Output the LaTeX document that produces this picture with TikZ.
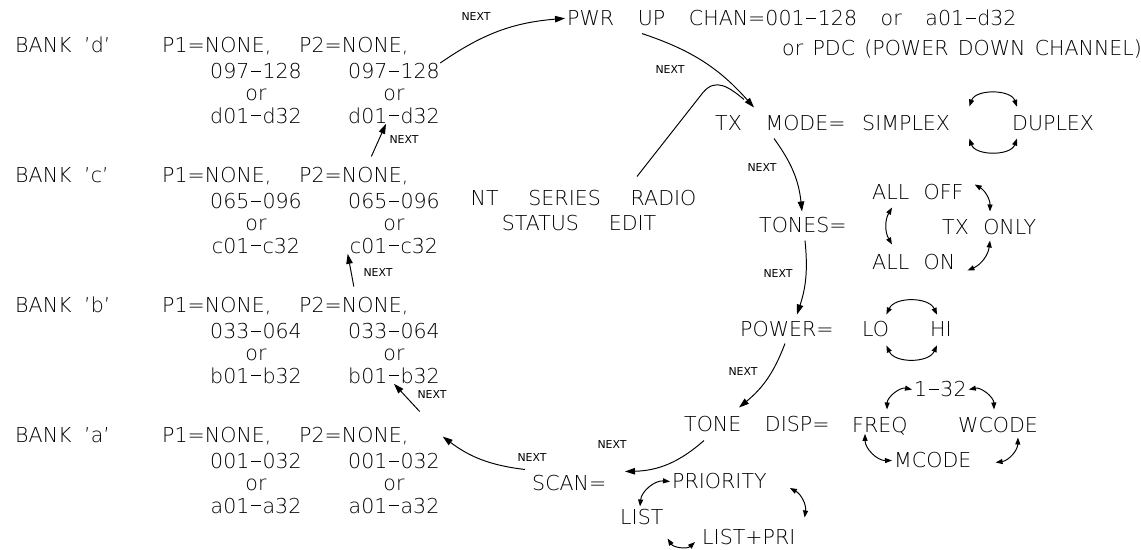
\documentclass[tikz,border=0pt]{standalone}
\usepackage{fontspec}
\setmainfont{DejaVu Sans ExtraLight}
\newfontfamily\nextfam{DejaVu Sans}
\usetikzlibrary{arrows.meta}
\newcommand\cadfont{\fontsize{11.7}{12.6}\selectfont\spaceskip=1.15em\relax}
\newcommand\cadtight{\fontsize{11.7}{12.6}\selectfont\spaceskip=.7em\relax}
\newcommand\cadpdc{\fontsize{11.7}{12.6}\selectfont\spaceskip=.45em\relax}
\newcommand\cadwide{\fontsize{11.7}{12.6}\selectfont\spaceskip=1.45em\relax}
\newcommand\cadnext{\nextfam\fontsize{6.2}{7}\selectfont}
\newcommand\rdash{\kern.07em\rule[.34em]{.5em}{.045em}\kern.07em}

\begin{document}
\begin{tikzpicture}[x=1cm,y=1cm,line width=0.55pt,
  txt/.style={anchor=base west,inner sep=1pt,font=\cadfont},
  ctr/.style={anchor=base,inner sep=1pt,font=\cadwide},
  chan/.style={anchor=north,inner sep=0pt,align=center,font=\cadfont},
  nxt/.style={inner sep=0pt,font=\cadnext},
  nextarr/.style={-{Triangle[length=2mm,width=1.3mm]}},
  swaparr/.style={{Triangle[length=1.4mm,width=1mm]}-{Triangle[length=1.4mm,width=1mm]}}]
\path[use as bounding box] (0,0) rectangle (22.82,11.00);

% banks d..a
\foreach \bk/\lo/\yy in {d/097\rdash128/9.94,c/065\rdash096/7.34,b/033\rdash064/4.74,a/001\rdash032/2.14}{
  \node[txt] (bank\bk) at (0.26,\yy) {BANK};
  \node[txt] (tag\bk) at (1.64,\yy) {'\bk'};
  \node[txt] (pa\bk) at (3.20,\yy) {P1=NONE,};
  \node[txt] (pb\bk) at (5.94,\yy) {P2=NONE,};
  \node[chan] (ra\bk) at (5.12,\yy-0.2) {\lo\\or\\\bk01\rdash\bk32};
  \node[chan] (rb\bk) at (7.88,\yy-0.2) {\lo\\or\\\bk01\rdash\bk32};
}

% status items
\node[txt] (pwr) at (11.30,10.48) {PWR UP CHAN=001\rdash128 or a01\rdash d32};
\node[txt,font=\cadpdc] (pdc) at (15.60,9.88) {or PDC (POWER DOWN CHANNEL)};
\node[txt] (txmode) at (14.26,8.38) {TX MODE=};
\node[txt] (simplex) at (17.20,8.38) {SIMPLEX};
\node[txt] (duplex) at (20.20,8.38) {DUPLEX};
\node[txt] (tones) at (15.14,6.34) {TONES=};
\node[txt,font=\cadtight] (alloff) at (17.40,7.00) {ALL OFF};
\node[txt,font=\cadtight] (txonly) at (18.80,6.30) {TX ONLY};
\node[txt,font=\cadtight] (allon) at (17.40,5.60) {ALL ON};
\node[txt] (power) at (14.76,4.26) {POWER=};
\node[txt] (lo) at (17.20,4.26) {LO};
\node[txt] (hi) at (18.56,4.26) {HI};
\node[txt] (tonedisp) at (13.64,2.36) {TONE DISP=};
\node[txt] (freq) at (17.00,2.34) {FREQ};
\node[txt] (wcode) at (19.12,2.34) {WCODE};
\node[txt] (onethirty) at (18.24,3.06) {1\rdash32};
\node[txt] (mcode) at (17.84,1.64) {MCODE};
\node[txt] (scan) at (10.60,1.18) {SCAN=};
\node[txt] (priority) at (13.40,1.22) {PRIORITY};
\node[txt] (list) at (12.36,0.50) {LIST};
\node[txt] (listpri) at (14.00,0.10) {LIST+PRI};
\node[ctr] (title) at (11.67,6.88) {NT SERIES RADIO};
\node[ctr] (status) at (11.58,6.38) {STATUS EDIT};

\foreach \n/\p in {1/{(9.52,10.66)},2/{(13.40,9.60)},3/{(15.24,7.64)},4/{(15.56,5.52)},
  5/{(14.86,3.56)},6/{(12.24,2.10)},7/{(10.64,1.84)},8/{(8.08,8.20)},9/{(7.56,5.54)},10/{(8.64,3.10)}}
  \node[nxt] (next\n) at \p {NEXT};

% NEXT chain
\draw[nextarr] (rbd.north east) to[bend left=15] (pwr.west);
\draw[nextarr] ([shift={(1.54,-0.10)}]pwr.south west) to[bend left=15] ([shift={(0.82,0.12)}]txmode.north west);
\draw[nextarr] ([shift={(1.22,-0.10)}]txmode.south west) to[bend left=15] ([shift={(0.90,0.08)}]tones.north west);
\draw[nextarr] ([shift={(0.96,-0.10)}]tones.south west) to[bend left=12] ([shift={(1.18,0.10)}]power.north west);
\draw[nextarr] ([shift={(0.94,-0.08)}]power.south west) to[bend left=15] ([shift={(1.14,0.14)}]tonedisp.north west);
\draw[nextarr] ([shift={(0.44,-0.12)}]tonedisp.south west) to[bend left=20] ([shift={(1.90,0.04)}]scan.north west);
\draw[nextarr] ([shift={(-0.10,0.08)}]scan.north west) to[bend left=15] ([xshift=6.4mm]pba.east);
\draw[nextarr] ([shift={(0.18,0.28)}]pba.north east) -- (rbb.south);
\draw[nextarr] ([yshift=1.8mm]pbb.north) -- (rbc.south west);
\draw[nextarr] ([shift={(0.35,0.18)}]pbc.north) -- ([xshift=-1.6mm]rbd.south);
\draw ([shift={(1.07,0.24)}]title.north) -- ++(1.32,1.68) .. controls +(0.25,0.30) and +(-0.30,0.25) .. ([shift={(0.62,0.28)}]txmode.north west);

% choices
\draw[swaparr] ([shift={(0.34,0.14)}]simplex.north east) to[bend left=70] ([shift={(0.14,0.14)}]duplex.north west);
\draw[swaparr] ([shift={(0.34,-0.10)}]simplex.south east) to[bend right=70] ([shift={(0.14,-0.10)}]duplex.south west);
\draw[swaparr] ([shift={(0.44,-0.10)}]alloff.south west) to[bend right=30] ([shift={(0.44,0.16)}]allon.north west);
\draw[swaparr] ([shift={(0.18,-0.04)}]alloff.north east) to[bend left=30] ([shift={(1.00,0.12)}]txonly.north west);
\draw[swaparr] ([shift={(1.00,-0.06)}]txonly.south west) to[bend left=30] ([shift={(0.20,0.04)}]allon.south east);
\draw[swaparr] ([shift={(-0.10,0.10)}]lo.north east) to[bend left=65] ([shift={(0.18,0.10)}]hi.north west);
\draw[swaparr] ([shift={(-0.10,-0.12)}]lo.south east) to[bend right=65] ([shift={(0.18,-0.12)}]hi.south west);
\draw[swaparr] ([shift={(0.74,0.12)}]freq.north west) to[bend left=50] (onethirty.west);
\draw[swaparr] (onethirty.east) to[bend left=50] ([shift={(0.76,0.12)}]wcode.north west);
\draw[swaparr] ([shift={(0.30,0.08)}]freq.south west) to[bend right=45] (mcode.west);
\draw[swaparr] ([shift={(1.24,-0.04)}]wcode.south west) to[bend left=40] ([shift={(0.44,-0.04)}]mcode.east);
\draw[swaparr] ([shift={(0.44,0.02)}]list.north west) to[bend left=45] (priority.west);
\draw[swaparr] ([shift={(0.04,-0.22)}]list.south east) to[bend right=50] ([shift={(-0.10,-0.09)}]listpri.west);
\draw[swaparr] ([shift={(0.42,-0.13)}]priority.east) to[bend left=35] ([shift={(0.14,0.20)}]listpri.north east);
\end{tikzpicture}
\end{document}
